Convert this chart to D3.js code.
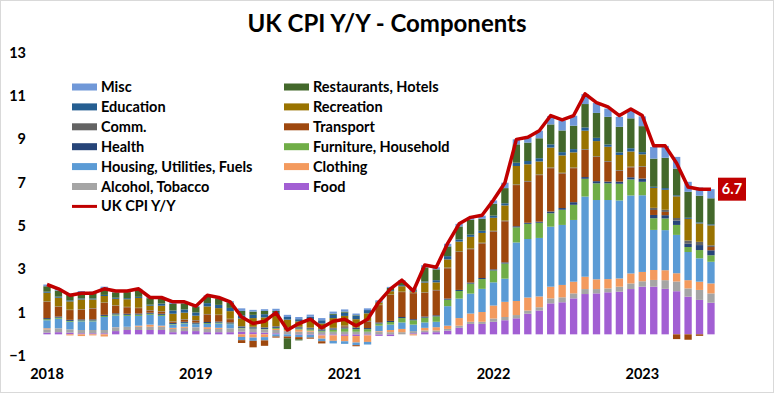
<!DOCTYPE html>
<html>
<head>
<meta charset="utf-8">
<script src="https://cdn.jsdelivr.net/npm/d3@7"></script>
<style>
  body { margin: 0; background: #fff; }
  svg { display: block; font-family: Lato, "Open Sans", sans-serif; }
</style>
</head>
<body>
<div id="chart"></div>
<script>
// monthly, Nov 2018 .. Sep 2023
const months = d3.timeMonth.range(new Date(2018, 10, 1), new Date(2023, 9, 1)).map(d3.timeFormat("%Y-%m"));
const tickIdx = [0, 13, 26, 39, 52];
const yTicks = [-1, 1, 3, 5, 7, 9, 11, 13];

const cpi = [2.3, 2.1,
  1.8, 1.9, 1.9, 2.1, 2.0, 2.0, 2.1, 1.7, 1.7, 1.5, 1.5, 1.3,
  1.8, 1.7, 1.5, 0.8, 0.5, 0.6, 1.0, 0.2, 0.5, 0.7, 0.3, 0.6,
  0.7, 0.4, 0.7, 1.5, 2.1, 2.5, 2.0, 3.2, 3.1, 4.2, 5.1, 5.4,
  5.5, 6.2, 7.0, 9.0, 9.1, 9.4, 10.1, 9.9, 10.1, 11.1, 10.7, 10.5,
  10.1, 10.4, 10.1, 8.7, 8.7, 7.9, 6.8, 6.7, 6.7];

const food = [0.08, 0.1,
  0.08, 0.05, 0.05, 0.05, 0.15, 0.2, 0.2, 0.2, 0.2, 0.1, 0.15, 0.15,
  0.1, 0.1, 0.1, 0.12, 0.1, 0.08, 0.05, 0.0, -0.03, -0.03, -0.05, -0.05,
  -0.07, -0.08, -0.05, -0.07, -0.08, 0.0, 0.05, 0.1, 0.1, 0.17, 0.3, 0.48,
  0.48, 0.58, 0.65, 0.74, 0.95, 1.1, 1.43, 1.48, 1.66, 1.86, 1.89, 1.94,
  1.97, 2.09, 2.2, 2.2, 2.1, 1.99, 1.74, 1.59, 1.46];
const alcohol = [0.15, 0.15,
  0.15, 0.15, 0.15, 0.15, 0.15, 0.15, 0.15, 0.15, 0.15, 0.15, 0.15, 0.15,
  0.15, 0.15, 0.15, 0.15, 0.15, 0.15, 0.15, 0.15, 0.12, 0.12, 0.12, 0.12,
  0.12, 0.12, 0.12, 0.12, 0.1, 0.1, 0.1, 0.08, 0.08, 0.08, 0.1, 0.1,
  0.1, 0.15, 0.15, 0.15, 0.15, 0.15, 0.23, 0.23, 0.23, 0.23, 0.2, 0.18,
  0.23, 0.26, 0.25, 0.31, 0.4, 0.45, 0.38, 0.46, 0.43];
const clothing = [0.05, 0.02,
  -0.05, -0.08, -0.05, -0.1, 0.02, 0.0, 0.05, 0.1, 0.05, 0.05, 0.05, 0.02,
  0.08, 0.05, 0.02, -0.12, -0.15, -0.13, 0.05, 0.05, 0.1, 0.05, -0.15, -0.25,
  -0.25, -0.3, -0.3, 0.03, 0.1, 0.15, -0.05, 0.12, 0.15, 0.15, 0.35, 0.38,
  0.45, 0.6, 0.7, 0.65, 0.6, 0.5, 0.54, 0.57, 0.54, 0.57, 0.45, 0.43,
  0.38, 0.46, 0.43, 0.46, 0.46, 0.38, 0.38, 0.38, 0.46];
const housing = [0.37, 0.45,
  0.35, 0.4, 0.4, 0.6, 0.55, 0.5, 0.45, 0.45, 0.45, 0.15, 0.15, 0.15,
  0.15, 0.2, 0.2, -0.15, -0.15, -0.15, -0.1, -0.1, -0.1, -0.12, -0.12, -0.12,
  -0.12, -0.12, -0.12, 0.25, 0.25, 0.3, 0.3, 0.25, 0.25, 0.9, 0.9, 0.92,
  1.07, 1.07, 1.07, 2.7, 2.7, 2.7, 2.77, 2.77, 2.85, 3.7, 3.66, 3.65,
  3.6, 3.6, 3.54, 1.85, 1.85, 1.77, 1.3, 1.08, 1.0];
const furniture = [0.05, 0.05,
  0.04, 0.04, 0.04, 0.05, 0.05, 0.05, 0.06, 0.05, 0.05, 0.03, 0.03, 0.02,
  0.04, 0.04, 0.03, 0.03, 0.02, 0.02, 0.05, 0.05, 0.05, 0.06, 0.05, 0.1,
  0.15, 0.12, 0.12, 0.1, 0.12, 0.2, 0.2, 0.22, 0.25, 0.3, 0.35, 0.46,
  0.45, 0.55, 0.7, 0.7, 0.7, 0.7, 0.62, 0.7, 0.7, 0.82, 0.77, 0.77,
  0.77, 0.74, 0.62, 0.54, 0.54, 0.46, 0.23, 0.38, 0.3];
const health = [0.05, 0.05,
  0.05, 0.05, 0.05, 0.05, 0.05, 0.05, 0.05, 0.05, 0.05, 0.05, 0.05, 0.05,
  0.05, 0.05, 0.05, 0.05, 0.05, 0.05, 0.05, 0.05, 0.05, 0.05, 0.05, 0.05,
  0.05, 0.05, 0.05, 0.05, 0.05, 0.05, 0.05, 0.05, 0.05, 0.05, 0.05, 0.05,
  0.05, 0.05, 0.05, 0.05, 0.05, 0.05, 0.08, 0.08, 0.12, 0.08, 0.1, 0.08,
  0.1, 0.1, 0.15, 0.15, 0.15, 0.2, 0.15, 0.23, 0.23];
const transport = [0.75, 0.45,
  0.45, 0.45, 0.5, 0.55, 0.35, 0.3, 0.25, 0.1, 0.1, 0.05, 0.1, 0.1,
  0.35, 0.3, 0.15, -0.13, -0.3, -0.25, -0.05, -0.08, -0.1, -0.05, -0.1, 0.0,
  0.05, -0.05, 0.3, 0.8, 1.2, 1.15, 1.2, 1.1, 1.15, 1.4, 1.75, 1.54,
  1.6, 1.75, 1.9, 1.9, 1.9, 2.15, 2.0, 1.6, 1.57, 1.26, 1.12, 0.92,
  0.5, 0.46, 0.54, 0.23, 0.15, -0.22, -0.25, -0.07, 0.15];
const comm = [0.02, 0.02,
  0.02, 0.02, 0.02, 0.02, 0.02, 0.02, 0.02, 0.02, 0.02, 0.02, 0.02, 0.02,
  0.02, 0.02, 0.02, 0.03, 0.03, 0.03, 0.03, 0.03, 0.03, 0.03, 0.03, 0.03,
  0.03, 0.03, 0.03, 0.02, 0.02, 0.02, 0.02, 0.02, 0.02, 0.03, 0.03, 0.03,
  0.03, 0.03, 0.03, 0.03, 0.03, 0.03, 0.03, 0.03, 0.03, 0.03, 0.03, 0.03,
  0.03, 0.03, 0.03, 0.1, 0.1, 0.12, 0.15, 0.15, 0.08];
const recreation = [0.4, 0.4,
  0.38, 0.45, 0.4, 0.3, 0.3, 0.35, 0.45, 0.2, 0.25, 0.35, 0.3, 0.2,
  0.35, 0.3, 0.35, 0.35, 0.4, 0.45, 0.5, 0.35, 0.25, 0.35, 0.25, 0.45,
  0.45, 0.38, 0.35, 0.1, 0.15, 0.25, 0.05, 0.45, 0.35, 0.38, 0.45, 0.54,
  0.45, 0.6, 0.7, 0.85, 0.77, 0.6, 0.92, 0.8, 0.7, 0.85, 0.7, 0.66,
  0.7, 0.7, 0.55, 0.92, 0.92, 1.0, 1.0, 0.85, 0.92];
const education = [0.05, 0.05,
  0.05, 0.05, 0.05, 0.05, 0.05, 0.05, 0.05, 0.05, 0.1, 0.15, 0.15, 0.15,
  0.15, 0.15, 0.15, 0.15, 0.15, 0.15, 0.15, 0.12, 0.1, 0.15, 0.15, 0.15,
  0.15, 0.15, 0.15, 0.05, 0.05, 0.05, 0.05, 0.05, 0.1, 0.15, 0.1, 0.1,
  0.1, 0.1, 0.1, 0.15, 0.15, 0.15, 0.15, 0.15, 0.15, 0.15, 0.15, 0.1,
  0.12, 0.15, 0.1, 0.05, 0.08, 0.05, 0.05, 0.05, 0.05];
const restaurants = [0.25, 0.28,
  0.25, 0.28, 0.25, 0.28, 0.25, 0.28, 0.32, 0.3, 0.25, 0.3, 0.28, 0.25,
  0.3, 0.3, 0.25, 0.2, 0.15, 0.15, 0.05, -0.5, -0.05, 0.0, 0.0, 0.05,
  0.05, 0.03, 0.0, 0.0, 0.1, 0.15, 0.05, 0.65, 0.5, 0.45, 0.6, 0.69,
  0.55, 0.55, 0.7, 0.85, 0.85, 0.92, 0.92, 1.0, 1.08, 1.08, 1.15, 1.28,
  1.18, 1.38, 1.2, 1.3, 1.4, 1.23, 1.2, 1.23, 1.2];
const misc = [0.08, 0.08,
  0.06, 0.06, 0.06, 0.1, 0.06, 0.05, 0.05, 0.05, 0.05, 0.1, 0.07, 0.05,
  0.06, 0.06, 0.06, 0.12, 0.08, 0.08, 0.1, 0.1, 0.1, 0.1, 0.1, 0.1,
  0.1, 0.08, 0.08, 0.05, 0.05, 0.08, 0.05, 0.1, 0.1, 0.12, 0.12, 0.11,
  0.15, 0.15, 0.25, 0.23, 0.25, 0.35, 0.38, 0.46, 0.46, 0.46, 0.46, 0.38,
  0.46, 0.38, 0.45, 0.54, 0.55, 0.54, 0.46, 0.38, 0.42];

// stacking order bottom -> top
const seriesNames = ["Food", "Alcohol, Tobacco", "Clothing", "Housing, Utilities, Fuels",
  "Furniture, Household", "Health", "Transport", "Comm.", "Recreation",
  "Education", "Restaurants, Hotels", "Misc"];
const seriesValues = [food, alcohol, clothing, housing, furniture, health,
  transport, comm, recreation, education, restaurants, misc];
const colors = ["#a25fd3", "#a5a5a5", "#f39a5e", "#5b9bd5", "#70ad47", "#264478",
  "#9e480e", "#636363", "#997300", "#255e91", "#43682b", "#7098d8"];

const table = months.map((m, i) => {
  const row = { month: m };
  seriesNames.forEach((s, j) => row[s] = seriesValues[j][i]);
  return row;
});

const width = 774;
const height = 393;

const svg = d3.select("#chart").append("svg")
  .attr("width", width)
  .attr("height", height);

svg.append("rect")
  .attr("x", 0.5).attr("y", 0.5)
  .attr("width", width - 1).attr("height", height - 1)
  .attr("fill", "#fff")
  .attr("stroke", "#d9d9d9");

const x = d3.scaleBand()
  .domain(months)
  .range([41.3, 716.7])
  .paddingInner(0.36)
  .paddingOuter(0.18);

const y = d3.scaleLinear()
  .domain([-1, 13])
  .range([356, 52.7]);

const stacked = d3.stack()
  .keys(seriesNames)
  .order(d3.stackOrderNone)
  .offset(d3.stackOffsetDiverging)(table);

svg.append("g")
  .selectAll("g")
  .data(stacked)
  .join("g")
  .attr("fill", (d, i) => colors[i])
  .selectAll("rect")
  .data(d => d)
  .join("rect")
  .attr("x", d => x(d.data.month))
  .attr("y", d => y(Math.max(d[0], d[1])))
  .attr("width", x.bandwidth())
  .attr("height", d => Math.abs(y(d[0]) - y(d[1])));

// y axis labels
const yAxis = svg.append("g")
  .attr("transform", "translate(26,0)")
  .call(d3.axisLeft(y).tickValues(yTicks).tickSize(0).tickPadding(0));
yAxis.select(".domain").remove();
yAxis.selectAll("text")
  .attr("font-family", "Lato, sans-serif")
  .attr("font-size", 14.5)
  .attr("font-weight", "bold")
  .attr("fill", "#000");

// x axis labels
const xAxis = svg.append("g")
  .attr("transform", "translate(0,369)")
  .call(d3.axisBottom(x)
    .tickValues(tickIdx.map(i => months[i]))
    .tickFormat(m => m.slice(0, 4))
    .tickSize(0).tickPadding(0));
xAxis.select(".domain").remove();
xAxis.selectAll("text")
  .attr("font-family", "Lato, sans-serif")
  .attr("font-size", 14.5)
  .attr("font-weight", "bold")
  .attr("fill", "#000");

// CPI line
const line = d3.line()
  .x((d, i) => x(months[i]) + x.bandwidth() / 2)
  .y(d => y(d));

svg.append("path")
  .datum(cpi)
  .attr("fill", "none")
  .attr("stroke", "#c00000")
  .attr("stroke-width", 3.5)
  .attr("stroke-linejoin", "round")
  .attr("d", line);

// last value label
const lastY = y(cpi[cpi.length - 1]);
svg.append("rect")
  .attr("x", 718).attr("y", lastY - 11.5)
  .attr("width", 28).attr("height", 23)
  .attr("fill", "#c00000");
svg.append("text")
  .attr("x", 732).attr("y", lastY + 5)
  .attr("text-anchor", "middle")
  .attr("font-size", 14.5)
  .attr("font-weight", "bold")
  .attr("fill", "#fff")
  .text(d3.format(".1f")(cpi[cpi.length - 1]));

// title
svg.append("text")
  .attr("x", 387).attr("y", 32)
  .attr("text-anchor", "middle")
  .attr("font-size", 24)
  .attr("font-weight", "bold")
  .attr("fill", "#000")
  .text("UK CPI Y/Y - Components");

// legend (two columns, same arrangement as the original)
const legendItems = [
  { name: "Misc", col: 0, row: 0 },
  { name: "Education", col: 0, row: 1 },
  { name: "Comm.", col: 0, row: 2 },
  { name: "Health", col: 0, row: 3 },
  { name: "Housing, Utilities, Fuels", col: 0, row: 4 },
  { name: "Alcohol, Tobacco", col: 0, row: 5 },
  { name: "UK CPI Y/Y", col: 0, row: 6, line: true },
  { name: "Restaurants, Hotels", col: 1, row: 0 },
  { name: "Recreation", col: 1, row: 1 },
  { name: "Transport", col: 1, row: 2 },
  { name: "Furniture, Household", col: 1, row: 3 },
  { name: "Clothing", col: 1, row: 4 },
  { name: "Food", col: 1, row: 5 }
];
const colX = [72, 284];

const legend = svg.append("g")
  .selectAll("g")
  .data(legendItems)
  .join("g")
  .attr("transform", d => `translate(${colX[d.col]},${87 + d.row * 19.9})`);

legend.filter(d => !d.line).append("rect")
  .attr("x", 0).attr("y", -3.5)
  .attr("width", 25).attr("height", 7)
  .attr("fill", d => colors[seriesNames.indexOf(d.name)]);

legend.filter(d => d.line).append("line")
  .attr("x1", 0).attr("x2", 25)
  .attr("stroke", "#c00000")
  .attr("stroke-width", 3);

legend.append("text")
  .attr("x", 29)
  .attr("y", 5)
  .attr("font-size", 14.5)
  .attr("font-weight", "bold")
  .attr("fill", "#000")
  .text(d => d.name);
</script>
</body>
</html>
